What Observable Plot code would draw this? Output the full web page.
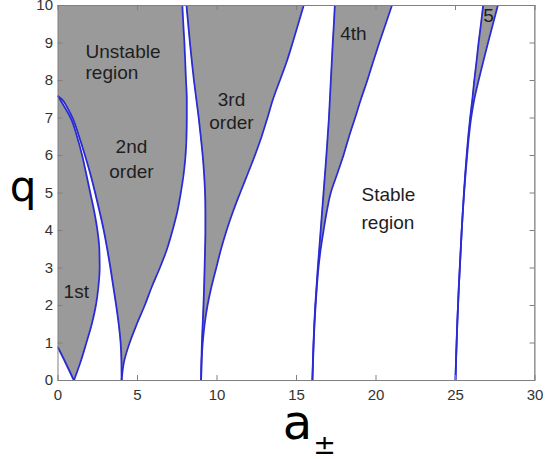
<!DOCTYPE html>
<html><head><meta charset="utf-8">
<script src="https://cdn.jsdelivr.net/npm/d3@7"></script>
<script src="https://cdn.jsdelivr.net/npm/@observablehq/plot@0.6"></script>
<style>body{margin:0;background:#fff}#chart svg{display:block}</style>
</head><body><div id="chart"></div>
<script>
// ---- tick values ----
const xTicks = [0, 5, 10, 15, 20, 25, 30];
const yTicks = [0, 1, 2, 3, 4, 5, 6, 7, 8, 9, 10];

// ---- q sample grids ----
const qB1 = [0, 0.3, 0.6, 0.88];
const qLow = [0, 0.5, 1, 1.5, 2, 2.5, 3, 3.5, 4, 4.5, 5, 5.5, 6, 6.5, 7, 7.25, 7.5, 7.58];
const qGrid = [0, 0.5, 1, 1.5, 2, 2.5, 3, 3.5, 4, 4.5, 5, 5.5, 6, 6.5, 7, 7.5, 8, 8.5, 9, 9.5, 10];

// ---- characteristic curves (a values) ----
const b1 = [1.0, 0.67, 0.33, 0.0];
const a1 = [1.0, 1.42, 1.78, 2.12, 2.38, 2.54, 2.62, 2.6, 2.48, 2.28, 2.03, 1.78, 1.52, 1.2, 0.8, 0.47, 0.12, 0.0];
const b2 = [4.0, 3.99, 3.94, 3.82, 3.66, 3.48, 3.3, 3.1, 2.88, 2.62, 2.34, 2.04, 1.7, 1.33, 0.92, 0.62, 0.24, 0.0];
const a2 = [4.0, 4.15, 4.5, 4.95, 5.45, 5.9, 6.4, 6.85, 7.2, 7.5, 7.72, 7.9, 8.02, 8.08, 8.1, 8.1, 8.05, 8.0, 7.95, 7.88, 7.82];
const b3 = [9.0, 9.02, 9.05, 9.1, 9.15, 9.19, 9.22, 9.25, 9.27, 9.27, 9.25, 9.19, 9.1, 8.98, 8.85, 8.7, 8.55, 8.42, 8.3, 8.19, 8.08];
const a3 = [9.0, 9.03, 9.1, 9.22, 9.4, 9.65, 9.95, 10.25, 10.6, 11.0, 11.45, 11.92, 12.38, 12.8, 13.17, 13.52, 13.95, 14.38, 14.75, 15.1, 15.45];
const b4 = [16.0, 16.03, 16.07, 16.12, 16.18, 16.26, 16.34, 16.43, 16.52, 16.61, 16.7, 16.79, 16.88, 16.96, 17.04, 17.1, 17.16, 17.22, 17.28, 17.35, 17.41];
const a4 = [16.0, 16.04, 16.08, 16.13, 16.2, 16.28, 16.38, 16.52, 16.7, 16.9, 17.15, 17.55, 17.95, 18.3, 18.68, 19.05, 19.45, 19.82, 20.2, 20.6, 21.0];
const b5 = [25.0, 25.03, 25.07, 25.11, 25.16, 25.21, 25.27, 25.33, 25.39, 25.46, 25.53, 25.61, 25.7, 25.8, 25.92, 26.06, 26.18, 26.32, 26.45, 26.6, 26.74];
const a5 = [25.0, 25.03, 25.07, 25.11, 25.16, 25.21, 25.27, 25.33, 25.39, 25.46, 25.54, 25.63, 25.73, 25.84, 25.98, 26.18, 26.45, 26.74, 27.04, 27.35, 27.66];

// ---- annotations: left-aligned and centred ----
const leftText = ["Unstable", "region", "1st", "Stable", "region"];
const leftA    = [1.73, 1.73, 0.35, 19.09, 19.09];
const leftQ    = [8.61, 8.05, 2.21, 4.8, 4.05];
const midText  = ["2nd", "order", "3rd", "order", "4th", "5"];
const midA     = [4.62, 4.62, 10.91, 10.91, 18.58, 27.08];
const midQ     = [6.08, 5.41, 7.33, 6.72, 9.07, 9.55];

const xMax = 30;

const line = (qs, as) => qs.map((q, i) => ({q, a: as[i]}));
const band = (qs, lo, hi) => qs.map((q, i) => ({q, x1: typeof lo === "number" ? lo : lo[i], x2: typeof hi === "number" ? hi : hi[i]}));
const leftNotes = leftText.map((t, i) => ({t, a: leftA[i], q: leftQ[i]}));
const midNotes = midText.map((t, i) => ({t, a: midA[i], q: midQ[i]}));

const W = 545, H = 459, mL = 57.5, mR = 10.5, mT = 5, mB = 79;
const fW = W - mL - mR, fH = H - mT - mB;

const gray = "#9a9a9a", blue = "#2b2bd2", frameCol = "#808080";

const stable = [
  band(qB1, 0, b1),
  band(qLow, a1, b2),
  band(qGrid, a2, b3),
  band(qGrid, a3, b4),
  band(qGrid, a4, b5),
  band(qGrid, a5, xMax)
];
const curves = [line(qB1, b1), line(qLow, a1), line(qLow, b2), line(qGrid, a2), line(qGrid, b3),
                line(qGrid, a3), line(qGrid, b4), line(qGrid, a4), line(qGrid, b5), line(qGrid, a5)];

const chart = Plot.plot({
  width: W, height: H,
  marginLeft: mL, marginRight: mR, marginTop: mT, marginBottom: mB,
  x: {domain: [0, 30], label: null},
  y: {domain: [0, 10], label: null},
  style: {fontFamily: "'Liberation Sans', Arial, Helvetica, sans-serif", fontSize: "15px", color: "#333", background: "#fff", overflow: "visible"},
  marks: [
    Plot.frame({fill: gray, stroke: null}),
    ...stable.map(d => Plot.areaX(d, {y: "q", x1: "x1", x2: "x2", fill: "white", clip: true, curve: "monotone-y"})),
    ...curves.map(d => Plot.line(d, {x: "a", y: "q", stroke: blue, strokeWidth: 1.8, clip: true, curve: "monotone-y"})),
    Plot.frame({stroke: frameCol, strokeWidth: 1}),
    Plot.ruleX(xTicks, {x: d => d, insetTop: fH - 5, stroke: frameCol}),
    Plot.ruleX(xTicks, {x: d => d, insetBottom: fH - 5, stroke: frameCol}),
    Plot.ruleY(yTicks, {y: d => d, insetRight: fW - 5, stroke: frameCol}),
    Plot.ruleY(yTicks, {y: d => d, insetLeft: fW - 5, stroke: frameCol}),
    Plot.axisX({ticks: xTicks, tickSize: 0, tickPadding: 9, fontSize: 15, label: null}),
    Plot.axisY({ticks: yTicks, tickSize: 0, tickPadding: 5, fontSize: 15, label: null}),
    Plot.text(leftNotes, {x: "a", y: "q", text: "t", textAnchor: "start", lineAnchor: "bottom", fontSize: 19, fill: "#1e1e1e"}),
    Plot.text(midNotes, {x: "a", y: "q", text: "t", textAnchor: "middle", lineAnchor: "bottom", fontSize: 19, fill: "#1e1e1e"}),
    Plot.text(["q"], {frameAnchor: "left", text: d => d, dx: -35, dy: 7.5, lineAnchor: "bottom", textAnchor: "middle", fontSize: 42, fontFamily: "'DejaVu Sans', sans-serif", fill: "#000"}),
    Plot.text(["a"], {frameAnchor: "bottom", text: d => d, dx: 1, dy: 58, lineAnchor: "bottom", textAnchor: "middle", fontSize: 48, fontFamily: "'DejaVu Sans', sans-serif", fill: "#000"}),
    Plot.text(["±"], {frameAnchor: "bottom", text: d => d, dx: 28, dy: 73, lineAnchor: "bottom", textAnchor: "middle", fontSize: 27, fontFamily: "'DejaVu Sans', sans-serif", fill: "#000"})
  ]
});
document.getElementById("chart").appendChild(chart);
</script>
</body></html>
